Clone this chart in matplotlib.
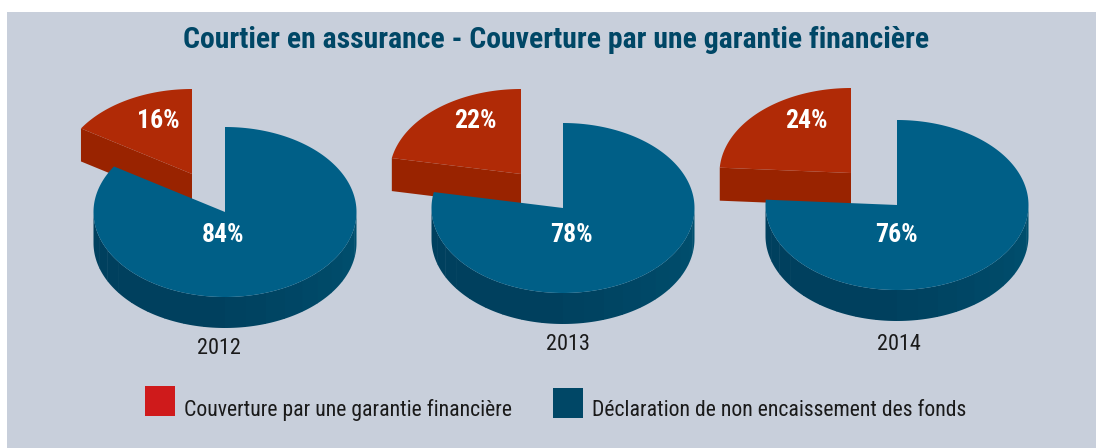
import matplotlib

matplotlib.use("Agg")

import matplotlib.pyplot as plt
import numpy as np
from matplotlib.colors import to_rgb
from matplotlib.patches import Polygon, Rectangle

years = ["2012", "2013", "2014"]
couverture = [16, 22, 24]
declaration = [84, 78, 76]
legend_labels = ["Couverture par une garantie financière", "Déclaration de non encaissement des fonds"]

BG = "#c8cfdb"
BLUE_TOP = "#005f87"
BLUE_WALL_L = "#00405e"
BLUE_WALL_R = "#00506f"
RED_TOP = "#b02a06"
RED_WALL = "#992300"
NAVY = "#004766"
FONT = ["Roboto Condensed", "Liberation Sans", "DejaVu Sans"]

# layout in pixels: blue apex, red apex, label centres
blue_apex = [(225, 212), (563, 208), (897, 205)]
red_apex = [(192, 174), (521, 174), (851, 173)]
red_label_x = [158, 475, 806]
blue_label_x = [223, 571, 896]
year_x = [219, 568, 899]
year_y = [349, 344, 344]
RX, RY, DEPTH, RED_DEPTH = 131.5, 85, 31, 33


def _rim(cx, cy, start, end, n=120):
    theta = np.radians(np.linspace(start, end, n))
    return np.column_stack([cx + RX * np.sin(theta), cy - RY * np.cos(theta)])


def _draw_blue(ax, cx, cy, share):
    end = share * 3.6
    # outer wall, cut in small bands like the original
    stop = min(end, 270)
    edges = np.append(np.arange(90, stop, 9.0), stop)
    left, right = np.array(to_rgb(BLUE_WALL_L)), np.array(to_rgb(BLUE_WALL_R))
    for a, b in zip(edges[:-1], edges[1:]):
        rim = _rim(cx, cy, a, b + 0.4, 8)
        wall = np.vstack([rim, rim[::-1] + [0, DEPTH]])
        mix = np.clip((a - 90) / 90, 0, 1)
        ax.add_patch(Polygon(wall, closed=True, fc=right + (left - right) * mix, ec="none", zorder=3))
    top = np.vstack([[cx, cy], _rim(cx, cy, 0, end, 240)])
    ax.add_patch(Polygon(top, closed=True, fc=BLUE_TOP, ec="none", zorder=4))


def _draw_red(ax, cx, cy, share):
    start = 360 - share * 3.6
    rim = _rim(cx, cy, start, 360)
    corner = rim[0]
    wall = np.array([corner, [cx, cy], [cx, cy + RED_DEPTH], corner + [0, RED_DEPTH]])
    ax.add_patch(Polygon(wall, closed=True, fc=RED_WALL, ec="none", zorder=1))
    top = np.vstack([[cx, cy], rim])
    ax.add_patch(Polygon(top, closed=True, fc=RED_TOP, ec="none", zorder=2))


fig = plt.figure(figsize=(10.96, 4.48), dpi=100, facecolor="white")
ax = fig.add_axes([0, 0, 1, 1])
ax.set_xlim(0, 1096)
ax.set_ylim(448, 0)
ax.axis("off")

ax.add_patch(Rectangle((7, 12), 1089, 436, fc=BG, ec="none", zorder=0))

ax.text(556.5, 39.5, "Courtier en assurance - Couverture par une garantie financière", color=NAVY,
        fontsize=21.4, fontweight="bold", family=FONT, ha="center", va="center")

for i, year in enumerate(years):
    _draw_red(ax, *red_apex[i], couverture[i])
    _draw_blue(ax, *blue_apex[i], declaration[i])
    ax.text(red_label_x[i], 121, f"{couverture[i]}%", color="white", fontsize=18.5,
            fontweight="bold", family=FONT, ha="center", va="center", zorder=6)
    ax.text(blue_label_x[i], 235, f"{declaration[i]}%", color="white", fontsize=18.5,
            fontweight="bold", family=FONT, ha="center", va="center", zorder=6)
    ax.text(year_x[i], year_y[i], year, color="#1a1a1a", fontsize=16,
            family=FONT, ha="center", va="center", zorder=6)

ax.add_patch(Rectangle((145, 386), 30, 30, fc="#cf1a1b", ec="none"))
ax.add_patch(Rectangle((553, 388), 30, 30, fc=NAVY, ec="none"))
ax.text(184, 410, legend_labels[0], color="#1a1a1a", fontsize=15.65, family=FONT, ha="left", va="center")
ax.text(592, 410, legend_labels[1], color="#1a1a1a", fontsize=15.65, family=FONT, ha="left", va="center")

fig.savefig("out.png", dpi=100)
